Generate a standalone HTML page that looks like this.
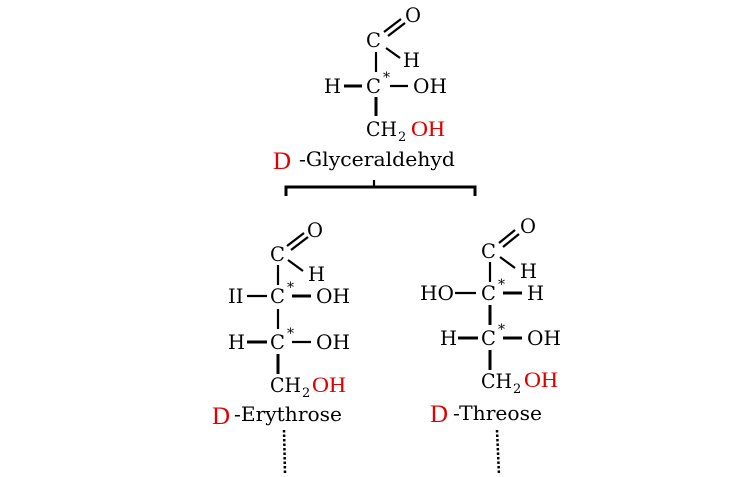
<!DOCTYPE html>
<html><head><meta charset="utf-8"><style>
html,body{margin:0;padding:0;background:#fff;}
svg{display:block}
text{font-family:"DejaVu Serif","Liberation Serif",serif;font-size:19.5px;fill:#000}
.r{fill:#e00000;font-family:"Liberation Serif",serif;font-size:22px}
.d{fill:#e00000;font-family:"Liberation Serif",serif;font-size:25px}
.s{font-size:13px}
.a{font-size:14px}
line{stroke:#000;stroke-width:2.2}
</style></head><body>
<svg width="747" height="477" viewBox="0 0 747 477">
<!-- top: glyceraldehyde -->
<text x="405" y="22">O</text>
<text x="366" y="47">C</text>
<line x1="384" y1="32" x2="401" y2="19"/><line x1="388" y1="36" x2="405" y2="23"/>
<line x1="386" y1="48" x2="400" y2="58"/>
<text x="403" y="67">H</text>
<line x1="376" y1="52" x2="376" y2="72"/>
<text x="324" y="93">H</text>
<line x1="344" y1="86" x2="362" y2="86" style="stroke-width:3"/>
<text x="366" y="93">C</text><text class="a" x="383" y="82">*</text>
<line x1="390" y1="86" x2="408" y2="86"/>
<text x="413" y="93" textLength="34" lengthAdjust="spacingAndGlyphs">OH</text>
<line x1="376" y1="97" x2="376" y2="116" style="stroke-width:3"/>
<text x="366" y="136" textLength="31" lengthAdjust="spacingAndGlyphs">CH</text><text class="s" x="398" y="141">2</text>
<text class="r" x="411" y="136" textLength="34" lengthAdjust="spacingAndGlyphs">OH</text>
<text class="d" x="273" y="169">D</text>
<text x="299" y="166" textLength="156" lengthAdjust="spacingAndGlyphs">-Glyceraldehyd</text>
<line x1="374" y1="180" x2="374" y2="188"/>
<polyline points="286,196 286,187 475,187 475,196" fill="none" stroke="#000" stroke-width="3"/>

<!-- left: erythrose -->
<text x="307" y="237">O</text>
<text x="270" y="261">C</text>
<line x1="287" y1="246" x2="304" y2="233"/><line x1="291" y1="250" x2="308" y2="237"/>
<line x1="288" y1="260" x2="303" y2="271"/>
<text x="308" y="281">H</text>
<line x1="278" y1="265" x2="278" y2="285"/>
<text x="228" y="303">II</text>
<line x1="247" y1="296" x2="267" y2="296"/>
<text x="270" y="303">C</text><text class="a" x="287" y="292">*</text>
<line x1="292" y1="296" x2="311" y2="296" style="stroke-width:3"/>
<text x="316" y="303" textLength="34" lengthAdjust="spacingAndGlyphs">OH</text>
<line x1="278" y1="309" x2="278" y2="329"/>
<text x="228" y="349">H</text>
<line x1="247" y1="342" x2="267" y2="342" style="stroke-width:3"/>
<text x="270" y="349">C</text><text class="a" x="287" y="338">*</text>
<line x1="292" y1="342" x2="311" y2="342"/>
<text x="316" y="349" textLength="34" lengthAdjust="spacingAndGlyphs">OH</text>
<line x1="278" y1="354" x2="278" y2="374" style="stroke-width:3"/>
<text x="270" y="392" textLength="31" lengthAdjust="spacingAndGlyphs">CH</text><text class="s" x="302" y="397">2</text>
<text class="r" x="312" y="392" textLength="34" lengthAdjust="spacingAndGlyphs">OH</text>
<text class="d" x="212" y="424">D</text>
<text x="234" y="421" textLength="108" lengthAdjust="spacingAndGlyphs">-Erythrose</text>
<line x1="284" y1="430" x2="285" y2="473" style="stroke-width:2.5;stroke-dasharray:2.5 2"/>

<!-- right: threose -->
<text x="520" y="233">O</text>
<text x="481" y="258">C</text>
<line x1="499" y1="243" x2="515" y2="230"/><line x1="503" y1="247" x2="519" y2="234"/>
<line x1="500" y1="257" x2="515" y2="268"/>
<text x="520" y="278">H</text>
<line x1="490" y1="262" x2="490" y2="282"/>
<text x="420" y="300" textLength="34" lengthAdjust="spacingAndGlyphs">HO</text>
<line x1="455" y1="293" x2="476" y2="293"/>
<text x="481" y="300">C</text><text class="a" x="498" y="289">*</text>
<line x1="503" y1="293" x2="522" y2="293" style="stroke-width:3"/>
<text x="527" y="300">H</text>
<line x1="490" y1="305" x2="490" y2="325" style="stroke-width:3"/>
<text x="440" y="345">H</text>
<line x1="458" y1="338" x2="478" y2="338" style="stroke-width:3"/>
<text x="481" y="345">C</text><text class="a" x="498" y="334">*</text>
<line x1="503" y1="338" x2="522" y2="338" style="stroke-width:3"/>
<text x="527" y="345" textLength="34" lengthAdjust="spacingAndGlyphs">OH</text>
<line x1="490" y1="350" x2="490" y2="370" style="stroke-width:3"/>
<text x="481" y="388" textLength="31" lengthAdjust="spacingAndGlyphs">CH</text><text class="s" x="513" y="393">2</text>
<text class="r" x="524" y="387" textLength="34" lengthAdjust="spacingAndGlyphs">OH</text>
<text class="d" x="430" y="422">D</text>
<text x="453" y="420" textLength="89" lengthAdjust="spacingAndGlyphs">-Threose</text>
<line x1="497" y1="430" x2="499" y2="475" style="stroke-width:2.5;stroke-dasharray:2.5 2"/>
</svg>
</body></html>
